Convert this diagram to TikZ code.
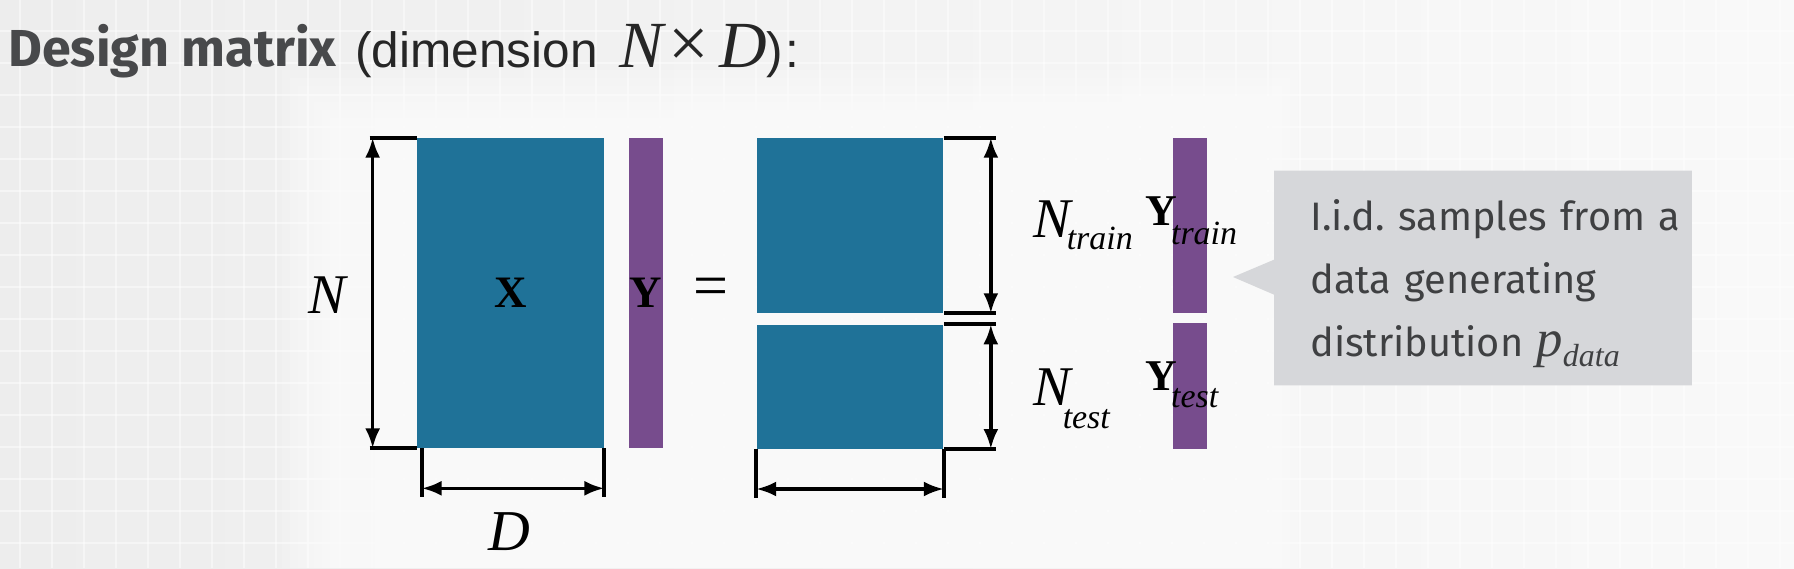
\documentclass[tikz,border=0pt]{standalone}
\usepackage{fontspec}
\setmainfont{Fira Sans}
\newfontfamily\tms{Liberation Serif}
\newfontfamily\arialfont{Liberation Sans}
\usetikzlibrary{arrows.meta,positioning,shapes.callouts}

\definecolor{matblue}{HTML}{1F7298}
\definecolor{vecpurple}{HTML}{774C8D}
\definecolor{callgray}{HTML}{D6D7DA}
\definecolor{calltext}{HTML}{3F4042}
\definecolor{titlegray}{HTML}{48494B}
\definecolor{bgleft}{HTML}{EDEDED}
\definecolor{bgright}{HTML}{F9F9F9}

\newcommand{\fsz}[1]{\fontsize{#1}{#1}\selectfont}
\newcommand{\lsub}[3]{\kern#1\raisebox{#2}{\mdseries\itshape\fsz{19.3pt}#3}}

\begin{document}
\begin{tikzpicture}[x=0.02cm, y=-0.02cm, >=Latex, node distance=0.48cm]
	\tikzstyle{mat}=[fill=matblue, inner sep=0pt, minimum width=3.74cm]
	\tikzstyle{vec}=[fill=vecpurple, inner sep=0pt, minimum width=0.68cm]
	\tikzstyle{lbl}=[inner sep=0pt, font=\tms]
	\tikzstyle{tick}=[line width=2.1pt]
	\tikzstyle{dim}=[line width=2pt, {Latex[length=0.4cm,width=0.3cm]}-{Latex[length=0.4cm,width=0.3cm]}]
	\tikzstyle{gridline}=[line width=1pt, color=white, opacity=0.45]

	% slide background
	\useasboundingbox (0,0) rectangle (1794,568);
	\fill[left color=bgleft, right color=bgright] (0,0) rectangle (1794,568);
	\foreach \gx in {20,52,...,1794} \draw[gridline] (\gx,0) -- (\gx,568);
	\foreach \gy in {31,63,...,568} \draw[gridline] (0,\gy) -- (1794,\gy);
	\foreach \s in {0,8,...,48} \fill[white, opacity=0.16] ({330-\s},{118-\s}) rectangle ({1250+\s},568);

	\node[anchor=base west, inner sep=0pt, text=titlegray] (title) at (8,66) {\fsz{29.6pt}\bfseries Design matrix};
	\node[anchor=base west, inner sep=0pt, text=black!85] (dims) at (355,67) {\arialfont\fsz{28.2pt}(dimension\kern0.44cm{\tms\itshape\fsz{37.5pt}N\kern0.1cm\upshape\fsz{41pt}×\kern0.2cm\itshape\fsz{37.5pt}D})\kern0.05cm:};

	% full design matrix
	\node[mat, minimum height=6.2cm] (X) at (510.5,293) {};
	\node[vec, minimum height=6.2cm, right=of X] (Y) {};
	\node[lbl] (xlab) at (X.center) {\fsz{25.6pt}\bfseries X};
	\node[lbl] (ylab) at (Y.center) {\fsz{25.6pt}\bfseries Y};
	\node[lbl] (eq) at (711,292) {\fsz{35.3pt}=};
	\node[lbl] (nlab) at (327,295) {\fsz{31.9pt}\itshape N};
	\node[lbl] (dlab) at (509,532) {\fsz{32.9pt}\itshape D};

	% split
	\node[mat, minimum height=3.5cm] (Xtrain) at (850,225.5) {};
	\node[mat, minimum height=2.48cm, below=0.22cm of Xtrain] (Xtest) {};
	\node[vec, minimum height=3.5cm, right=4.58cm of Xtrain] (Ytrain) {};
	\node[vec, minimum height=2.52cm, below=0.18cm of Ytrain] (Ytest) {};

	\node[lbl, anchor=base west] (ntrain) at (1033,237) {\fsz{31.9pt}\itshape N\lsub{-0.08cm}{-0.24cm}{train}};
	\node[lbl, anchor=base west] (ntest) at (1033,405) {\fsz{31.9pt}\itshape N\lsub{-0.16cm}{-0.46cm}{test}};
	\node[lbl, anchor=base west] (ytrain) at (1145,225) {\fsz{25pt}\bfseries Y\lsub{-0.12cm}{-0.4cm}{train}};
	\node[lbl, anchor=base west] (ytest) at (1145,390) {\fsz{25pt}\bfseries Y\lsub{-0.12cm}{-0.34cm}{test}};

	% dimension marks
	\draw[tick] ([xshift=-0.94cm]X.north west) -- (X.north west);
	\draw[tick] ([xshift=-0.94cm]X.south west) -- (X.south west);
	\draw[dim] ([xshift=-0.88cm]X.north west) -- ([xshift=-0.88cm]X.south west);
	\draw[tick] ([xshift=0.1cm]X.south west) -- ([xshift=0.1cm,yshift=-0.98cm]X.south west);
	\draw[tick] (X.south east) -- ([yshift=-0.98cm]X.south east);
	\draw[dim] ([xshift=0.1cm,yshift=-0.8cm]X.south west) -- ([yshift=-0.8cm]X.south east);

	\draw[tick] (Xtrain.north east) -- ([xshift=1.04cm]Xtrain.north east);
	\draw[tick] (Xtrain.south east) -- ([xshift=1.04cm]Xtrain.south east);
	\draw[tick] (Xtest.north east) -- ([xshift=1.04cm]Xtest.north east);
	\draw[tick] (Xtest.south east) -- ([xshift=1.04cm]Xtest.south east);
	\draw[dim] ([xshift=0.94cm]Xtrain.north east) -- ([xshift=0.94cm]Xtrain.south east);
	\draw[dim] ([xshift=0.94cm]Xtest.north east) -- ([xshift=0.94cm]Xtest.south east);
	\draw[tick] (Xtest.south west) -- ([yshift=-0.98cm]Xtest.south west);
	\draw[tick] (Xtest.south east) -- ([yshift=-0.98cm]Xtest.south east);
	\draw[dim] ([yshift=-0.8cm]Xtest.south west) -- ([yshift=-0.8cm]Xtest.south east);

	% callout
	\node[rectangle callout, fill=callgray, inner sep=0pt, minimum width=8.36cm, minimum height=4.3cm,
		callout absolute pointer={(1233,277)}, callout pointer width=0.7cm] (callout) at (1483,278) {};
	\node[anchor=base west, inner sep=0pt, text width=7.7cm, align=left, text=calltext,
		font={\fontsize{22.6pt}{35.9pt}\selectfont\frenchspacing}] (iid) at (1310,230)
		{I.i.d. samples from a\\ data generating\\ distribution {\tms\itshape\fontsize{30pt}{30pt}\selectfont p}\raisebox{-0.2cm}{\tms\itshape\fontsize{18.2pt}{20pt}\selectfont data}};
\end{tikzpicture}
\end{document}
